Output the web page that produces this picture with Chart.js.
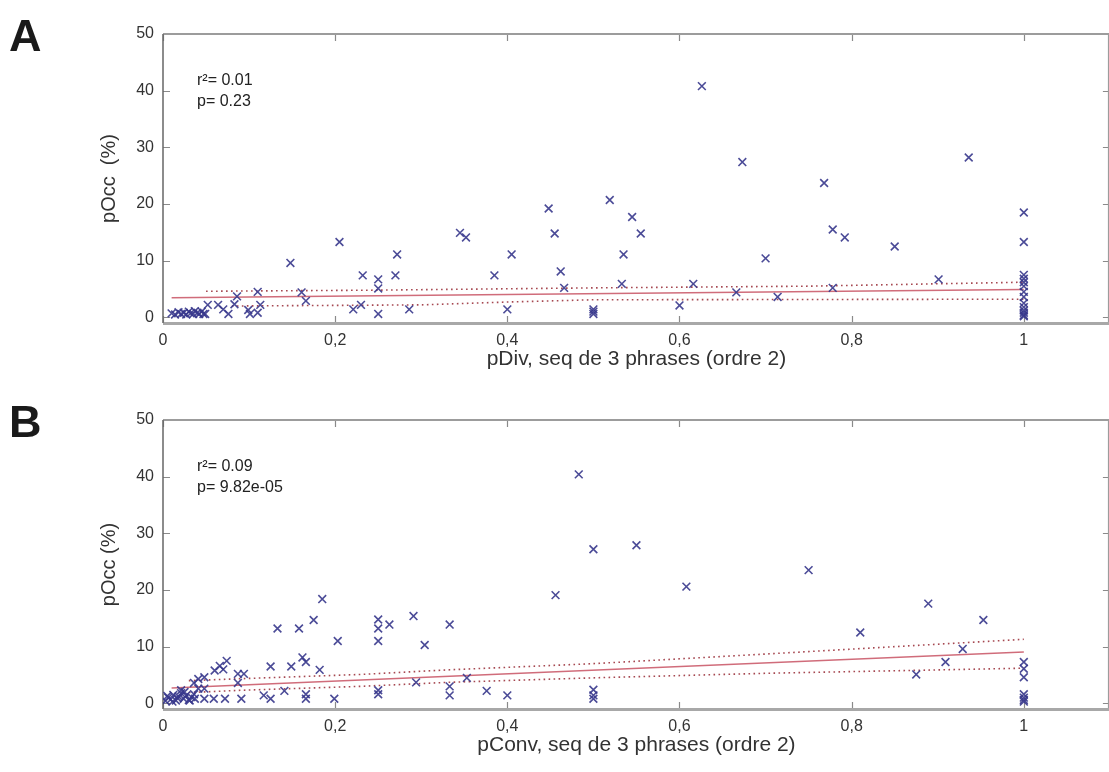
<!DOCTYPE html>
<html>
<head>
<meta charset="utf-8">
<script src="https://cdn.jsdelivr.net/npm/chart.js@4.4.1/dist/chart.umd.min.js"></script>
<style>
  body { margin: 0; background: #fff; overflow: hidden; }
  .panel { position: absolute; left: 0; width: 1109px; height: 386px; overflow: hidden; }
</style>
</head>
<body>
<div class="panel" style="top:0"><canvas id="chartA" width="1117" height="386"></canvas></div>
<div class="panel" style="top:386px"><canvas id="chartB" width="1117" height="386"></canvas></div>
<script>
// tick values
var xTicks = [0, 0.2, 0.4, 0.6, 0.8, 1];
var yTicks = [0, 10, 20, 30, 40, 50];

// panel A : pDiv vs pOcc
var divX = [0.010, 0.014, 0.018, 0.021, 0.024, 0.027, 0.030, 0.032, 0.035, 0.037, 0.040, 0.042, 0.045, 0.047,
  0.049, 0.052, 0.064, 0.070, 0.076, 0.083, 0.086, 0.099, 0.101, 0.110, 0.110, 0.113,
  0.148, 0.161, 0.166, 0.205, 0.221, 0.230, 0.232, 0.25, 0.25, 0.25, 0.270, 0.272, 0.286,
  0.345, 0.352, 0.385, 0.400, 0.405, 0.448, 0.455, 0.462, 0.466, 0.5, 0.5, 0.5,
  0.519, 0.533, 0.535, 0.545, 0.555, 0.600, 0.616, 0.626, 0.666, 0.673, 0.700, 0.714,
  0.768, 0.778, 0.778, 0.792, 0.850, 0.901, 0.936,
  1, 1, 1, 1, 1, 1, 1, 1, 1, 1, 1, 1, 1, 1];
var divY = [0.7, 0.5, 0.9, 0.6, 0.8, 0.5, 1.0, 0.7, 0.6, 1.1, 0.8, 0.6, 1.0, 0.6,
  0.6, 2.2, 2.2, 1.4, 0.6, 2.3, 3.7, 1.3, 0.6, 4.5, 0.8, 2.2,
  9.6, 4.4, 2.9, 13.3, 1.4, 2.2, 7.4, 6.7, 5.1, 0.6, 7.4, 11.1, 1.4,
  14.9, 14.1, 7.4, 1.4, 11.1, 19.2, 14.8, 8.1, 5.2, 1.4, 1.0, 0.6,
  20.7, 5.9, 11.1, 17.7, 14.8, 2.1, 5.9, 40.8, 4.4, 27.4, 10.4, 3.6,
  23.7, 15.5, 5.2, 14.1, 12.5, 6.7, 28.2,
  18.5, 13.3, 7.5, 6.8, 6.2, 5.5, 4.5, 3.6, 2.5, 1.8, 1.2, 0.8, 0.4, 0.2];
var divFitX = [0.01, 1];
var divFitY = [3.45, 4.9];
var divUpX = [0.05, 0.25, 0.5, 0.75, 1];
var divUpY = [4.6, 4.8, 5.2, 5.5, 6.2];
var divLowX = [0.08, 0.3, 0.4, 0.5, 1];
var divLowY = [2.0, 2.2, 2.7, 3.1, 3.2];
var divStats = ['r\u00b2= 0.01', 'p= 0.23'];

// panel B : pConv vs pOcc
var convX = [0.003, 0.006, 0.009, 0.012, 0.015, 0.018, 0.021, 0.024, 0.027, 0.030, 0.033, 0.036, 0.005, 0.011, 0.017, 0.025, 0.031,
  0.021, 0.037, 0.036, 0.041, 0.041, 0.048, 0.048, 0.048, 0.059, 0.060, 0.066, 0.070, 0.072, 0.074,
  0.087, 0.087, 0.091, 0.094, 0.117, 0.125, 0.125, 0.133, 0.141, 0.149, 0.158, 0.162, 0.166, 0.166, 0.166,
  0.175, 0.182, 0.185, 0.199, 0.203, 0.25, 0.25, 0.25, 0.25, 0.25, 0.263, 0.291, 0.294, 0.304,
  0.333, 0.333, 0.333, 0.353, 0.376, 0.400, 0.456, 0.483, 0.500, 0.500, 0.500, 0.500, 0.550, 0.608,
  0.750, 0.810, 0.875, 0.889, 0.909, 0.929, 0.953,
  1, 1, 1, 1, 1, 1, 1];
var convY = [0.4, 1.0, 0.7, 1.5, 0.5, 1.2, 1.8, 0.8, 1.4, 0.6, 1.1, 1.6, 1.3, 0.3, 0.9, 2.0, 0.5,
  2.3, 0.8, 3.6, 4.3, 2.6, 4.6, 2.6, 0.8, 0.8, 5.8, 6.6, 6.0, 0.8, 7.5,
  5.2, 3.6, 0.8, 5.2, 1.4, 6.5, 0.8, 13.2, 2.2, 6.5, 13.2, 8.1, 7.3, 1.6, 0.8,
  14.7, 5.9, 18.4, 0.8, 11.0, 14.8, 13.2, 11.0, 2.3, 1.6, 13.9, 15.4, 3.7, 10.3,
  13.9, 3.0, 1.4, 4.5, 2.2, 1.4, 19.1, 40.4, 27.2, 2.4, 1.4, 0.8, 27.9, 20.6,
  23.5, 12.5, 5.1, 17.6, 7.3, 9.6, 14.7,
  7.3, 6.1, 4.6, 1.6, 1.0, 0.6, 0.3];
var convFitX = [0.01, 1];
var convFitY = [2.7, 9.05];
var convUpX = [0.03, 0.1, 0.23, 0.33, 0.5, 0.7, 1];
var convUpY = [4.0, 4.4, 5.1, 5.9, 7.0, 8.7, 11.3];
var convLowX = [0.03, 0.09, 0.23, 0.33, 0.5, 0.7, 1];
var convLowY = [1.9, 2.3, 3.0, 3.7, 4.5, 5.3, 6.2];
var convStats = ['r\u00b2= 0.09', 'p= 9.82e-05'];

var FONT = '"Liberation Sans", Arial, sans-serif';

function pts(xs, ys) {
  return xs.map(function(x, i) { return { x: x, y: ys[i] }; });
}

// frame + inward tick marks, like the original plot box
var frameTicks = {
  id: 'frameTicks',
  beforeDatasetsDraw: function(chart) {
    var ctx = chart.ctx, a = chart.chartArea;
    var xs = chart.scales.x, ys = chart.scales.y;
    ctx.save();
    ctx.strokeStyle = '#8a8a8a';
    ctx.lineWidth = 1.2;
    xTicks.forEach(function(v) {
      var px = Math.round(xs.getPixelForValue(v)) + 0.5;
      ctx.beginPath();
      ctx.moveTo(px, a.bottom); ctx.lineTo(px, a.bottom - 7);
      ctx.moveTo(px, a.top); ctx.lineTo(px, a.top + 7);
      ctx.stroke();
    });
    yTicks.forEach(function(v) {
      var py = Math.round(ys.getPixelForValue(v)) + 0.5;
      ctx.beginPath();
      ctx.moveTo(a.left, py); ctx.lineTo(a.left + 7, py);
      ctx.moveTo(a.right, py); ctx.lineTo(a.right - 7, py);
      ctx.stroke();
    });
    ctx.lineWidth = 2;
    ctx.strokeStyle = '#9c9c9c';
    ctx.beginPath();
    ctx.moveTo(a.left, a.top); ctx.lineTo(a.right, a.top);
    ctx.moveTo(a.right - 1, a.top); ctx.lineTo(a.right - 1, a.bottom);
    ctx.stroke();
    ctx.lineWidth = 3;
    ctx.strokeStyle = '#a8a8a8';
    ctx.beginPath();
    ctx.moveTo(a.left, a.bottom + 0.5); ctx.lineTo(a.right, a.bottom + 0.5);
    ctx.stroke();
    ctx.lineWidth = 1.5;
    ctx.strokeStyle = '#666';
    ctx.beginPath();
    ctx.moveTo(a.left, a.top); ctx.lineTo(a.left, a.bottom);
    ctx.stroke();
    ctx.restore();
  },
  afterDraw: function(chart, args, opts) {
    var ctx = chart.ctx, a = chart.chartArea;
    ctx.save();
    ctx.fillStyle = '#1a1a1a';
    ctx.font = 'bold 45px ' + FONT;
    ctx.textBaseline = 'middle';
    ctx.fillText(opts.letter, 9, 39);
    ctx.fillStyle = '#222';
    ctx.font = '16px ' + FONT;
    opts.stats.forEach(function(s, i) {
      ctx.fillText(s, a.left + 34, a.top + 47 + i * 21);
    });
    ctx.restore();
  }
};

function makeChart(id, letter, xs, ys, fx, fy, ux, uy, lx, ly, stats, xTitle, yTitle) {
  return new Chart(document.getElementById(id), {
    type: 'scatter',
    data: {
      datasets: [
        {
          label: 'data',
          data: pts(xs, ys),
          pointStyle: 'crossRot',
          pointRadius: 5.5,
          borderWidth: 1.6,
          borderColor: 'rgba(55, 55, 140, 0.9)',
          backgroundColor: 'rgba(55, 55, 140, 0.9)'
        },
        {
          label: 'upper',
          data: pts(ux, uy),
          showLine: true,
          pointRadius: 0,
          borderWidth: 1.6,
          borderDash: [1.6, 3.4],
          borderColor: 'rgba(150, 40, 50, 0.85)'
        },
        {
          label: 'lower',
          data: pts(lx, ly),
          showLine: true,
          pointRadius: 0,
          borderWidth: 1.6,
          borderDash: [1.6, 3.4],
          borderColor: 'rgba(150, 40, 50, 0.85)'
        },
        {
          label: 'fit',
          data: pts(fx, fy),
          showLine: true,
          pointRadius: 0,
          borderWidth: 1.5,
          borderColor: 'rgba(205, 100, 115, 0.95)'
        }
      ]
    },
    options: {
      responsive: false,
      animation: false,
      layout: { padding: { top: 34, right: 0, left: 0, bottom: 0 } },
      plugins: {
        legend: { display: false },
        tooltip: { enabled: false },
        frameTicks: { letter: letter, stats: stats }
      },
      scales: {
        x: {
          type: 'linear',
          min: 0,
          max: 1.1,
          afterFit: function(s) { s.height = 63; },
          grid: { display: false, drawTicks: false },
          border: { display: false },
          ticks: {
            stepSize: 0.2,
            includeBounds: false,
            padding: 8,
            color: '#333',
            font: { family: FONT, size: 16 },
            callback: function(v) { return String(Number(v.toFixed(1))).replace('.', ','); }
          },
          title: {
            display: true,
            text: xTitle,
            color: '#333',
            font: { family: FONT, size: 21 },
            padding: { top: 0, bottom: 14 }
          }
        },
        y: {
          min: -1,
          max: 50,
          afterFit: function(s) { s.width = 163; },
          grid: { display: false, drawTicks: false },
          border: { display: false },
          ticks: {
            stepSize: 10,
            includeBounds: false,
            padding: 9,
            color: '#333',
            font: { family: FONT, size: 16 }
          },
          title: {
            display: true,
            text: yTitle,
            color: '#333',
            font: { family: FONT, size: 20 },
            padding: { top: 97, bottom: 0 }
          }
        }
      }
    },
    plugins: [frameTicks]
  });
}

makeChart('chartA', 'A', divX, divY, divFitX, divFitY, divUpX, divUpY, divLowX, divLowY,
  divStats, 'pDiv, seq de 3 phrases (ordre 2)', 'pOcc  (%)');
makeChart('chartB', 'B', convX, convY, convFitX, convFitY, convUpX, convUpY, convLowX, convLowY,
  convStats, 'pConv, seq de 3 phrases (ordre 2)', 'pOcc (%)');
</script>
</body>
</html>
